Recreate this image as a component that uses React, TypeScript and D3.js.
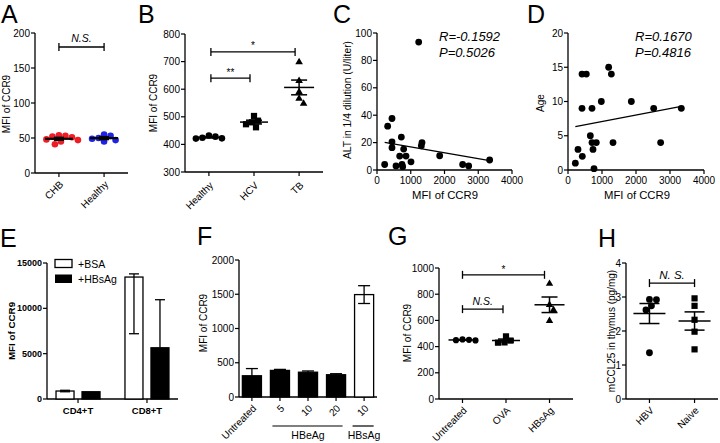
import React from 'react';
import * as d3 from 'd3';

const FONT = '"Liberation Sans", Arial, Helvetica, sans-serif';

// ---------- Panel A ----------
const aCats = ['CHB', 'Healthy'];
const aCHB = [54, 53, 52, 51, 48, 47, 45, 41];
const aHealthy = [55, 53, 50, 49, 47, 45];
const aTicks = [0, 50, 100, 150, 200];

// ---------- Panel B ----------
const bCats = ['Healthy', 'HCV', 'TB'];
const bHealthy = [432, 428, 424, 422, 421];
const bHCV = [503, 486, 480, 473, 462];
const bTB = [698, 630, 590, 566, 548];
const bTicks = [300, 400, 500, 600, 700, 800];

// ---------- Panel C ----------
const cMFI = [227, 316, 444, 444, 444, 563, 672, 721, 741, 760, 790, 860, 1007, 1235, 1314, 1333, 1857, 2538, 2716, 3338];
const cALT = [4, 32, 37.6, 20.6, 16.3, 3, 10.2, 24, 4, 2.4, 15.3, 10.2, 6, 93.4, 17.7, 20, 10.4, 4, 3, 7.3];
const cFit = [21.06, -0.004243]; // intercept, slope
const cYTicks = [0, 20, 40, 60, 80, 100];
const xTicksMFI = [0, 1000, 2000, 3000, 4000];

// ---------- Panel D ----------
const dMFI = [216, 294, 412, 412, 421, 539, 657, 706, 706, 735, 765, 833, 980, 1196, 1275, 1324, 1863, 2520, 2725, 3333];
const dAge = [1, 3, 14, 9, 2, 14, 5, 9, 4, 3, 0.2, 4, 10, 15, 14, 4, 10, 9, 4, 9];
const dFit = [6.11, 0.000956];
const dYTicks = [0, 5, 10, 15, 20];

// ---------- Panel E ----------
const eGroups = ['CD4+T', 'CD8+T'];
const eSeries = ['+BSA', '+HBsAg'];
const eBSA = [880, 13450];
const eBSAUp = [80, 350];
const eBSADown = [80, 6250];
const eHBsAg = [800, 5650];
const eHBsAgUp = [0, 5300];
const eTicks = [0, 5000, 10000, 15000];

// ---------- Panel F ----------
const fIds = ['Untreated', 'e5', 'e10', 'e20', 's10'];
const fLabels = ['Untreated', '5', '10', '20', '10'];
const fMeans = [310, 388, 362, 325, 1495];
const fErr = [105, 15, 18, 15, 130];
const fTicks = [0, 500, 1000, 1500, 2000];

// ---------- Panel G ----------
const gCats = ['Untreated', 'OVA', 'HBsAg'];
const gUntreated = [447, 452, 449, 455];
const gOVA = [478, 446, 432, 430];
const gHBsAg = [880, 719, 681, 597];
const gTicks = [0, 200, 400, 600, 800, 1000];

// ---------- Panel H ----------
const hCats = ['HBV', 'Naive'];
const hHBV = [2.92, 2.93, 2.74, 2.62, 1.36];
const hNaive = [2.96, 2.74, 2.33, 1.98, 1.46];
const hTicks = [0, 1, 2, 3, 4];

type Lin = d3.ScaleLinear<number, number>;

function swarm(ys: number[], r: number): number[] {
  const idx = ys.map((_, i) => i).sort((a, b) => ys[a] - ys[b]);
  const placed: { x: number; y: number }[] = [];
  const out = new Array(ys.length).fill(0);
  for (const i of idx) {
    const y = ys[i];
    let best = 0;
    for (let k = 0; k < 400; k++) {
      const cand = k === 0 ? 0 : (k % 2 ? 1 : -1) * Math.ceil(k / 2) * 0.5;
      if (placed.every((p) => Math.hypot(p.x - cand, p.y - y) >= 2 * r - 0.5)) {
        best = cand;
        break;
      }
    }
    placed.push({ x: best, y });
    out[i] = best;
  }
  return out;
}

function YAxis({ scale, ticks, x, fs = 10, bold = false }: { scale: Lin; ticks: number[]; x: number; fs?: number; bold?: boolean }) {
  const [r0, r1] = scale.range();
  return (
    <g>
      <line x1={x} x2={x} y1={r0} y2={r1} stroke="#000" strokeWidth={1.3} />
      {ticks.map((t) => (
        <g key={t}>
          <line x1={x - 4} x2={x} y1={scale(t)} y2={scale(t)} stroke="#000" strokeWidth={1.2} />
          <text x={x - 5} y={scale(t)} dy="0.35em" textAnchor="end" fontSize={fs} fontWeight={bold ? 'bold' : 'normal'}>
            {t}
          </text>
        </g>
      ))}
    </g>
  );
}

function XAxisLin({ scale, ticks, y, fs = 10 }: { scale: Lin; ticks: number[]; y: number; fs?: number }) {
  const [r0, r1] = scale.range();
  return (
    <g>
      <line x1={r0} x2={r1} y1={y} y2={y} stroke="#000" strokeWidth={1.3} />
      {ticks.map((t) => (
        <g key={t}>
          <line x1={scale(t)} x2={scale(t)} y1={y} y2={y + 4} stroke="#000" strokeWidth={1.2} />
          <text x={scale(t)} y={y + 14} textAnchor="middle" fontSize={fs}>
            {t}
          </text>
        </g>
      ))}
    </g>
  );
}

function XAxisCat({ xs, labels, x0, x1, y, fs = 10, dx = 5, dy = 12 }: { xs: number[]; labels: string[]; x0: number; x1: number; y: number; fs?: number; dx?: number; dy?: number }) {
  return (
    <g>
      <line x1={x0} x2={x1} y1={y} y2={y} stroke="#000" strokeWidth={1.3} />
      {xs.map((x, i) => (
        <g key={i}>
          <line x1={x} x2={x} y1={y} y2={y + 4} stroke="#000" strokeWidth={1.2} />
          <text transform={`translate(${x + dx},${y + dy}) rotate(-45)`} textAnchor="end" fontSize={fs}>
            {labels[i]}
          </text>
        </g>
      ))}
    </g>
  );
}

function Marker({ shape, x, y, color, s }: { shape: string; x: number; y: number; color: string; s: number }) {
  if (shape === 'circle') return <circle cx={x} cy={y} r={s} fill={color} />;
  if (shape === 'square') return <rect x={x - s} y={y - s} width={2 * s} height={2 * s} fill={color} />;
  const p = d3.symbol(d3.symbolTriangle, s * s * 2.3)() as string;
  return <path d={p} transform={`translate(${x},${y})`} fill={color} />;
}

function DotGroup({ cx, values, scale, shape, color, s, meanHalf = 14, semHalf = 8, lw = 1.5 }: { cx: number; values: number[]; scale: Lin; shape: string; color: string; s: number; meanHalf?: number; semHalf?: number; lw?: number }) {
  const ys = values.map((v) => scale(v));
  const offs = swarm(ys, s + 0.2);
  const m = d3.mean(values) as number;
  const sem = (d3.deviation(values) as number) / Math.sqrt(values.length);
  return (
    <g>
      {values.map((v, i) => (
        <Marker key={i} shape={shape} x={cx + offs[i]} y={ys[i]} color={color} s={s} />
      ))}
      <line x1={cx - meanHalf} x2={cx + meanHalf} y1={scale(m)} y2={scale(m)} stroke="#000" strokeWidth={lw} />
      <line x1={cx} x2={cx} y1={scale(m - sem)} y2={scale(m + sem)} stroke="#000" strokeWidth={lw} />
      <line x1={cx - semHalf} x2={cx + semHalf} y1={scale(m + sem)} y2={scale(m + sem)} stroke="#000" strokeWidth={lw} />
      <line x1={cx - semHalf} x2={cx + semHalf} y1={scale(m - sem)} y2={scale(m - sem)} stroke="#000" strokeWidth={lw} />
    </g>
  );
}

function Bracket({ x1, x2, y, label, italic = false, fs = 10, ty = -4 }: { x1: number; x2: number; y: number; label: string; italic?: boolean; fs?: number; ty?: number }) {
  return (
    <g>
      <line x1={x1} x2={x2} y1={y} y2={y} stroke="#000" strokeWidth={1.3} />
      <line x1={x1} x2={x1} y1={y - 4} y2={y + 4} stroke="#000" strokeWidth={1.3} />
      <line x1={x2} x2={x2} y1={y - 4} y2={y + 4} stroke="#000" strokeWidth={1.3} />
      <text x={(x1 + x2) / 2} y={y + ty} textAnchor="middle" fontSize={fs} fontStyle={italic ? 'italic' : 'normal'}>
        {label}
      </text>
    </g>
  );
}

function YTitle({ x, y, text, fs = 10, bold = false }: { x: number; y: number; text: string; fs?: number; bold?: boolean }) {
  return (
    <text transform={`translate(${x},${y}) rotate(-90)`} textAnchor="middle" fontSize={fs} fontWeight={bold ? 'bold' : 'normal'}>
      {text}
    </text>
  );
}

function Letter({ x, y, t }: { x: number; y: number; t: string }) {
  return (
    <text x={x} y={y} fontSize={25}>
      {t}
    </text>
  );
}

export default function App() {
  // A
  const yA = d3.scaleLinear().domain([0, 200]).range([173, 33]);
  const xA = d3.scalePoint<string>().domain(aCats).range([35, 128]).padding(0.53);
  // B
  const yB = d3.scaleLinear().domain([300, 800]).range([172, 34]);
  const xB = d3.scalePoint<string>().domain(bCats).range([185, 323]).padding(0.53);
  // C
  const xC = d3.scaleLinear().domain([0, 4000]).range([377, 512]);
  const yC = d3.scaleLinear().domain([0, 100]).range([170, 33]);
  // D
  const xD = d3.scaleLinear().domain([0, 4000]).range([568, 704]);
  const yD = d3.scaleLinear().domain([0, 20]).range([170, 33]);
  // E
  const yE = d3.scaleLinear().domain([0, 15000]).range([399, 263]);
  const xE = d3.scalePoint<string>().domain(eGroups).range([47, 178]).padding(0.45);
  const xEs = d3.scaleBand<string>().domain(eSeries).range([-22, 22]).paddingInner(0.3077);
  // F
  const yF = d3.scaleLinear().domain([0, 2000]).range([397, 260]);
  const xF = d3.scaleBand<string>().domain(fIds).range([239, 377]).paddingInner(0.32).paddingOuter(0.12);
  // G
  const yG = d3.scaleLinear().domain([0, 1000]).range([399, 268]);
  const xG = d3.scalePoint<string>().domain(gCats).range([439, 573]).padding(0.54);
  // H
  const yH = d3.scaleLinear().domain([0, 4]).range([399, 263]);
  const xH = d3.scalePoint<string>().domain(hCats).range([626, 718]).padding(0.52);

  const cx0 = d3.min(cMFI) as number, cx1 = d3.max(cMFI) as number;
  const dx0 = d3.min(dMFI) as number, dx1 = d3.max(dMFI) as number;

  const fb = xF.bandwidth();

  return (
    <div style={{ position: 'absolute', left: 0, top: 0, width: 720, height: 443, background: '#fff' }}>
      <svg width={720} height={443} style={{ display: 'block', fontFamily: FONT }}>
        <rect width={720} height={443} fill="#fff" />
        {/* ---------- A ---------- */}
        <Letter x={1} y={23} t="A" />
        <YAxis scale={yA} ticks={aTicks} x={35} />
        <XAxisCat xs={aCats.map((c) => xA(c) as number)} labels={aCats} x0={35} x1={128} y={173} />
        <YTitle x={10} y={104} text="MFI of CCR9" />
        <DotGroup cx={xA('CHB') as number} values={aCHB} scale={yA} shape="circle" color="#ee1c24" s={3.3} meanHalf={14} semHalf={5} lw={2.2} />
        <DotGroup cx={xA('Healthy') as number} values={aHealthy} scale={yA} shape="circle" color="#1e22e6" s={3.3} meanHalf={14} semHalf={5} lw={2.2} />
        <Bracket x1={xA('CHB') as number} x2={xA('Healthy') as number} y={yA(180)} label="N.S." italic fs={10.5} ty={-5} />

        {/* ---------- B ---------- */}
        <Letter x={138} y={23} t="B" />
        <YAxis scale={yB} ticks={bTicks} x={185} />
        <XAxisCat xs={bCats.map((c) => xB(c) as number)} labels={bCats} x0={185} x1={323} y={172} dy={14} />
        <YTitle x={157} y={103} text="MFI of CCR9" />
        <DotGroup cx={xB('Healthy') as number} values={bHealthy} scale={yB} shape="circle" color="#000" s={3.3} />
        <DotGroup cx={xB('HCV') as number} values={bHCV} scale={yB} shape="square" color="#000" s={3.1} />
        <DotGroup cx={xB('TB') as number} values={bTB} scale={yB} shape="triangle" color="#000" s={3.3} meanHalf={15} />
        <Bracket x1={(xB('Healthy') as number) + 2} x2={(xB('HCV') as number) - 4} y={yB(640)} label="**" fs={10} ty={-2} />
        <Bracket x1={(xB('Healthy') as number) + 2} x2={(xB('TB') as number) - 4} y={yB(735)} label="*" fs={10} ty={-3} />

        {/* ---------- C ---------- */}
        <Letter x={333} y={23} t="C" />
        <YAxis scale={yC} ticks={cYTicks} x={377} />
        <XAxisLin scale={xC} ticks={xTicksMFI} y={170} />
        <YTitle x={351} y={100} text="ALT in 1/4 dilution (U/liter)" fs={10.3} />
        <text x={445} y={199} textAnchor="middle" fontSize={11.3}>MFI of CCR9</text>
        {cMFI.map((v, i) => (
          <circle key={i} cx={xC(v)} cy={yC(cALT[i])} r={3.4} fill="#000" />
        ))}
        <line x1={xC(cx0)} x2={xC(cx1)} y1={yC(cFit[0] + cFit[1] * cx0)} y2={yC(cFit[0] + cFit[1] * cx1)} stroke="#000" strokeWidth={1.3} />
        <text x={439} y={41} fontSize={13} fontStyle="italic">R=-0.1592</text>
        <text x={439} y={57} fontSize={13} fontStyle="italic">P=0.5026</text>

        {/* ---------- D ---------- */}
        <Letter x={527} y={23} t="D" />
        <YAxis scale={yD} ticks={dYTicks} x={568} />
        <XAxisLin scale={xD} ticks={xTicksMFI} y={170} />
        <YTitle x={544} y={103} text="Age" />
        <text x={637} y={199} textAnchor="middle" fontSize={11.3}>MFI of CCR9</text>
        {dMFI.map((v, i) => (
          <circle key={i} cx={xD(v)} cy={yD(dAge[i])} r={3.4} fill="#000" />
        ))}
        <line x1={xD(dx0)} x2={xD(dx1)} y1={yD(dFit[0] + dFit[1] * dx0)} y2={yD(dFit[0] + dFit[1] * dx1)} stroke="#000" strokeWidth={1.3} />
        <text x={635} y={41} fontSize={13} fontStyle="italic">R=0.1670</text>
        <text x={635} y={57} fontSize={13} fontStyle="italic">P=0.4816</text>

        {/* ---------- E ---------- */}
        <Letter x={0} y={247} t="E" />
        <YAxis scale={yE} ticks={eTicks} x={47} fs={9} bold />
        <line x1={47} x2={178} y1={399} y2={399} stroke="#000" strokeWidth={1.3} />
        {eGroups.map((g, gi) => {
          const c = xE(g) as number;
          const bx = c + (xEs('+BSA') as number);
          const hx = c + (xEs('+HBsAg') as number);
          const bw = xEs.bandwidth();
          return (
            <g key={g}>
              <line x1={c} x2={c} y1={399} y2={403} stroke="#000" strokeWidth={1.2} />
              <text x={c} y={414} textAnchor="middle" fontSize={9.5} fontWeight="bold">{g}</text>
              <rect x={bx} y={yE(eBSA[gi])} width={bw} height={399 - yE(eBSA[gi])} fill="#fff" stroke="#000" strokeWidth={1.3} />
              <line x1={bx + bw / 2} x2={bx + bw / 2} y1={yE(eBSA[gi] + eBSAUp[gi])} y2={yE(eBSA[gi] - eBSADown[gi])} stroke="#000" strokeWidth={1.3} />
              <line x1={bx + bw / 2 - 5} x2={bx + bw / 2 + 5} y1={yE(eBSA[gi] + eBSAUp[gi])} y2={yE(eBSA[gi] + eBSAUp[gi])} stroke="#000" strokeWidth={1.3} />
              <line x1={bx + bw / 2 - 5} x2={bx + bw / 2 + 5} y1={yE(eBSA[gi] - eBSADown[gi])} y2={yE(eBSA[gi] - eBSADown[gi])} stroke="#000" strokeWidth={1.3} />
              <rect x={hx} y={yE(eHBsAg[gi])} width={bw} height={399 - yE(eHBsAg[gi])} fill="#000" stroke="#000" strokeWidth={1.3} />
              {eHBsAgUp[gi] > 0 && (
                <g>
                  <line x1={hx + bw / 2} x2={hx + bw / 2} y1={yE(eHBsAg[gi] + eHBsAgUp[gi])} y2={yE(eHBsAg[gi])} stroke="#000" strokeWidth={1.3} />
                  <line x1={hx + bw / 2 - 5} x2={hx + bw / 2 + 5} y1={yE(eHBsAg[gi] + eHBsAgUp[gi])} y2={yE(eHBsAg[gi] + eHBsAgUp[gi])} stroke="#000" strokeWidth={1.3} />
                </g>
              )}
            </g>
          );
        })}
        <YTitle x={15} y={331} text="MFI of CCR9" fs={9.8} bold />
        <rect x={55} y={259.5} width={17} height={8} fill="#fff" stroke="#000" strokeWidth={1.3} />
        <text x={78} y={267.5} fontSize={10.5}>{eSeries[0]}</text>
        <rect x={55} y={274.5} width={17} height={8.5} fill="#000" />
        <text x={78} y={282.5} fontSize={10.5}>{eSeries[1]}</text>

        {/* ---------- F ---------- */}
        <Letter x={197} y={245} t="F" />
        <YAxis scale={yF} ticks={fTicks} x={239} />
        <YTitle x={207} y={323} text="MFI of CCR9" />
        <line x1={239} x2={377} y1={397} y2={397} stroke="#000" strokeWidth={1.3} />
        {fIds.map((id, i) => {
          const x = xF(id) as number;
          const c = x + fb / 2;
          const white = i === fIds.length - 1;
          return (
            <g key={id}>
              <rect x={x} y={yF(fMeans[i])} width={fb} height={397 - yF(fMeans[i])} fill={white ? '#fff' : '#000'} stroke="#000" strokeWidth={1.3} />
              <line x1={c} x2={c} y1={yF(fMeans[i] + fErr[i])} y2={white ? yF(fMeans[i] - fErr[i]) : yF(fMeans[i])} stroke="#000" strokeWidth={1.3} />
              <line x1={c - 6} x2={c + 6} y1={yF(fMeans[i] + fErr[i])} y2={yF(fMeans[i] + fErr[i])} stroke="#000" strokeWidth={1.3} />
              {white && <line x1={c - 6} x2={c + 6} y1={yF(fMeans[i] - fErr[i])} y2={yF(fMeans[i] - fErr[i])} stroke="#000" strokeWidth={1.3} />}
              <line x1={c} x2={c} y1={397} y2={401} stroke="#000" strokeWidth={1.2} />
              <text transform={`translate(${c + 5},${409}) rotate(-45)`} textAnchor="end" fontSize={10}>{fLabels[i]}</text>
            </g>
          );
        })}
        <line x1={(xF('e5') as number) + 2} x2={(xF('e20') as number) + fb - 3} y1={426} y2={426} stroke="#000" strokeWidth={1.2} />
        <text x={((xF('e5') as number) + (xF('e20') as number) + fb) / 2} y={439} textAnchor="middle" fontSize={10.5}>HBeAg</text>
        <line x1={(xF('s10') as number) - 2} x2={(xF('s10') as number) + fb} y1={426} y2={426} stroke="#000" strokeWidth={1.2} />
        <text x={(xF('s10') as number) + fb / 2} y={439} textAnchor="middle" fontSize={10.5}>HBsAg</text>

        {/* ---------- G ---------- */}
        <Letter x={388} y={245} t="G" />
        <YAxis scale={yG} ticks={gTicks} x={439} />
        <XAxisCat xs={gCats.map((c) => xG(c) as number)} labels={gCats} x0={439} x1={573} y={399} />
        <YTitle x={411} y={333} text="MFI of CCR9" />
        <DotGroup cx={xG('Untreated') as number} values={gUntreated} scale={yG} shape="circle" color="#000" s={3.1} />
        <DotGroup cx={xG('OVA') as number} values={gOVA} scale={yG} shape="square" color="#000" s={3.1} />
        <DotGroup cx={xG('HBsAg') as number} values={gHBsAg} scale={yG} shape="triangle" color="#000" s={3.2} meanHalf={15} />
        <Bracket x1={xG('Untreated') as number} x2={(xG('OVA') as number) - 3} y={yG(686)} label="N.S." italic fs={10.5} ty={-4} />
        <Bracket x1={xG('Untreated') as number} x2={(xG('HBsAg') as number) - 5} y={yG(948)} label="*" fs={10} ty={-2} />

        {/* ---------- H ---------- */}
        <Letter x={598} y={247} t="H" />
        <YAxis scale={yH} ticks={hTicks} x={626} />
        <XAxisCat xs={hCats.map((c) => xH(c) as number)} labels={hCats} x0={626} x1={718} y={399} />
        <YTitle x={615} y={331} text="mCCL25 in thymus (pg/mg)" fs={10} />
        <DotGroup cx={xH('HBV') as number} values={hHBV} scale={yH} shape="circle" color="#000" s={3.4} meanHalf={16} semHalf={10} />
        <DotGroup cx={xH('Naive') as number} values={hNaive} scale={yH} shape="square" color="#000" s={3.1} meanHalf={16} semHalf={10} />
        <Bracket x1={xH('HBV') as number} x2={xH('Naive') as number} y={yH(3.41)} label="N. S." italic fs={11.5} ty={-4} />
      </svg>
    </div>
  );
}
